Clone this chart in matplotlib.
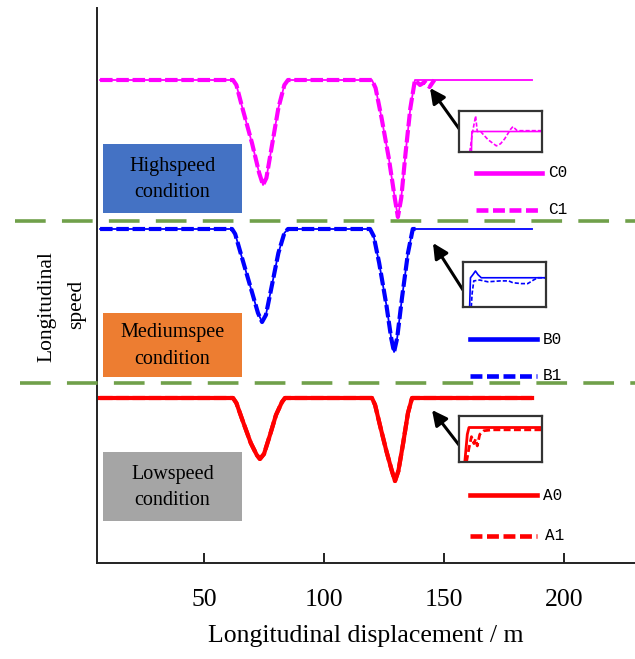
import matplotlib
matplotlib.use("Agg")
import matplotlib.pyplot as plt
from matplotlib.lines import Line2D
from matplotlib.patches import Rectangle

plt.rcParams['font.family'] = ['Liberation Serif', 'DejaVu Serif']

W, H, DPI = 635, 659, 100

# ---- speed profiles (x: longitudinal displacement / m, y: stacked speed level) ----
c_x = [6.7, 62.1, 63.5, 66, 70, 73, 74.6, 76, 78.5, 81, 83.5, 85,
       120, 121.5, 124, 127, 129.5, 130.8, 132.2, 134, 136, 137.9, 186.7]
c0_y = [483, 483, 478, 455, 420, 390, 378, 385, 420, 455, 478, 483,
        483, 475, 445, 405, 365, 346, 365, 410, 455, 483, 483]
c1_x = [6.7, 62.1, 63.5, 66, 70, 73, 74.6, 76, 78.5, 81, 83.5, 85,
        120, 121.5, 124, 127, 129.5, 130.8, 132.2, 134, 136, 137.9, 140, 142, 144, 146]
c1_y = [483, 483, 478, 455, 420, 390, 378, 385, 420, 455, 478, 483,
        483, 475, 445, 405, 365, 346, 365, 410, 455, 483, 478, 481, 476, 483]

b_x = [6.7, 61.7, 63, 65.5, 69.5, 72.5, 74.2, 75.8, 78.5, 81, 83.5, 85,
       119.2, 120.7, 123, 126, 128, 129.2, 130.5, 132.5, 135, 137, 186.7]
b0_y = [334, 334, 329, 308, 275, 250, 241, 248, 280, 310, 330, 334,
        334, 327, 300, 258, 225, 211, 225, 265, 310, 334, 334]
b1_x = b_x[:-1] + [138.5]
b1_y = b0_y[:-1] + [334]

a_x = [6.7, 62.1, 63.5, 66, 69.5, 72, 73.3, 75, 77.5, 80, 82.5, 83.75,
       120, 121.3, 123.5, 126, 128.3, 129.6, 131, 133, 135, 136.7, 186.7]
a0_y = [165, 165, 160, 143, 120, 108, 104, 109, 128, 148, 161, 165,
        165, 158, 136, 112, 92, 82, 92, 120, 150, 165, 165]
a1_y = list(a0_y)

# ---- zoomed-in detail of the recovery after the second dip (normalised) ----
c0_ix = [0.15, 0.155, 1.0]
c0_iy = [0.0, 0.5, 0.5]
c1_ix = [0.13, 0.16, 0.2, 0.22, 0.26, 0.35, 0.45, 0.5, 0.55, 0.62, 0.65, 0.7, 1.0]
c1_iy = [0.0, 0.45, 0.88, 0.5, 0.5, 0.3, 0.15, 0.2, 0.32, 0.55, 0.62, 0.52, 0.52]

b0_ix = [0.08, 0.09, 0.12, 0.15, 0.18, 0.22, 1.0]
b0_iy = [0.0, 0.65, 0.72, 0.8, 0.72, 0.65, 0.65]
b1_ix = [0.1, 0.11, 0.13, 0.2, 0.3, 0.45, 0.55, 0.6, 0.7, 0.78, 0.85, 0.9, 1.0]
b1_iy = [0.0, 0.3, 0.58, 0.6, 0.56, 0.58, 0.58, 0.54, 0.52, 0.52, 0.6, 0.65, 0.65]

a0_ix = [0.07, 0.09, 0.1, 0.12, 1.0]
a0_iy = [0.0, 0.4, 0.6, 0.75, 0.75]
a1_ix = [0.09, 0.12, 0.15, 0.18, 0.2, 0.22, 0.25, 0.3, 0.4, 1.0]
a1_iy = [0.0, 0.3, 0.55, 0.4, 0.5, 0.35, 0.6, 0.68, 0.7, 0.7]

x_ticks = [50, 100, 150, 200]
conditions = ["Highspeed\ncondition", "Mediumspee\ncondition", "Lowspeed\ncondition"]
condition_colors = ["#4472C4", "#ED7D31", "#A5A5A5"]
series_labels = ["C0", "C1", "B0", "B1", "A0", "A1"]

MAGENTA, BLUE, RED = "#ff00ff", "#0000ff", "#ff0000"


def fx(px):
    return px / W


def fy(py):
    return 1 - py / H


fig = plt.figure(figsize=(W / DPI, H / DPI), dpi=DPI)
ax = fig.add_axes([fx(97), fy(563), fx(635) - fx(97), fy(8) - fy(563)])
ax.set_xlim(5.42, 229.6)
ax.set_ylim(0, 555)
for s in ("top", "right"):
    ax.spines[s].set_visible(False)
for s in ("left", "bottom"):
    ax.spines[s].set_linewidth(1.4)
    ax.spines[s].set_color("#222222")
ax.set_yticks([])
ax.set_xticks(x_ticks)
ax.tick_params(axis="x", direction="in", length=7, width=1.4, color="#222222",
               labelsize=18.5, pad=19)
ax.set_xlabel("Longitudinal displacement / m", fontsize=18.5, labelpad=10)

dash = (3.0, 0.9)
# high speed
ax.plot(c_x, c0_y, color=MAGENTA, lw=1.3, solid_joinstyle="round")
ax.plot(c1_x, c1_y, color=MAGENTA, lw=3.0, linestyle=(0, dash))
# medium speed
ax.plot(b_x, b0_y, color=BLUE, lw=1.3)
ax.plot(b1_x, b1_y, color=BLUE, lw=3.0, linestyle=(0, dash))
# low speed
ax.plot(a_x, a1_y, color=RED, lw=3.0, linestyle=(0, dash))
ax.plot(a_x, a0_y, color=RED, lw=3.0)

# y label (two lines, rotated)
fig.text(fx(47), fy(307), "Longitudinal", rotation=90, ha="center", va="center", fontsize=15.5)
fig.text(fx(77), fy(304), "speed", rotation=90, ha="center", va="center", fontsize=15.5)

# condition boxes
boxes = [(103, 144, 242, 213), (103, 313, 242, 377), (103, 452, 242, 521)]
for (x0, y0, x1, y1), txt, col in zip(boxes, conditions, condition_colors):
    fig.add_artist(Rectangle((fx(x0), fy(y1)), fx(x1) - fx(x0), fy(y0) - fy(y1),
                             transform=fig.transFigure, facecolor=col, edgecolor="none",
                             zorder=1))
    fig.text(fx((x0 + x1) / 2), fy((y0 + y1) / 2 + 1), txt, ha="center", va="center",
             fontsize=14.5, linespacing=1.5, zorder=2)

# separators between conditions
for py, start in ((221, 15), (383, 20)):
    fig.add_artist(Line2D([fx(start), 1.0], [fy(py), fy(py)], transform=fig.transFigure,
                          color="#70a04a", lw=2.6, linestyle=(0, (8.5, 4.5)), zorder=3))

# legend samples
legend_rows = [
    (476, 542, 173, MAGENTA, "-", 548),
    (476, 542, 210, MAGENTA, "--", 548),
    (470, 537, 339, BLUE, "-", 543),
    (470, 537, 376, BLUE, "--", 543),
    (470, 537, 495, RED, "-", 543),
    (470, 537, 536, RED, "--", 545),
]
for (x0, x1, py, col, ls, tx), lab in zip(legend_rows, series_labels):
    style = "-" if ls == "-" else (0, (2.6, 1.0))
    fig.add_artist(Line2D([fx(x0), fx(x1)], [fy(py), fy(py)], transform=fig.transFigure,
                          color=col, lw=3.3, linestyle=style))
    fig.text(fx(tx), fy(py), lab, ha="left", va="center", fontsize=11.5,
             family=["Liberation Mono", "DejaVu Sans Mono"])

# detail insets with arrows
insets = [
    ((459, 111, 542, 152), c0_ix, c0_iy, c1_ix, c1_iy, MAGENTA, (430, 88), (460, 130), 1.2),
    ((463, 262, 546, 307), b0_ix, b0_iy, b1_ix, b1_iy, BLUE, (433, 243), (463, 290), 1.2),
    ((459, 416, 542, 462), a0_ix, a0_iy, a1_ix, a1_iy, RED, (432, 410), (459, 445), 2.0),
]
for (x0, y0, x1, y1), sx, sy, dx, dy, col, head, tail, lw in insets:
    iax = fig.add_axes([fx(x0), fy(y1), fx(x1) - fx(x0), fy(y0) - fy(y1)])
    iax.set_xlim(0, 1)
    iax.set_ylim(0, 1)
    iax.set_xticks([])
    iax.set_yticks([])
    for s in iax.spines.values():
        s.set_linewidth(1.6)
        s.set_color("#333333")
    iax.plot(dx, dy, color=col, lw=lw, linestyle=(0, (2.5, 1.2)))
    iax.plot(sx, sy, color=col, lw=lw)
    ax.annotate("", xy=(head[0], H - head[1]), xycoords="figure pixels",
                xytext=(tail[0], H - tail[1]), textcoords="figure pixels",
                arrowprops=dict(arrowstyle="-|>,head_length=0.9,head_width=0.45",
                                color="black", lw=2.2, shrinkA=0, shrinkB=0))

fig.savefig("out.png", dpi=DPI)
